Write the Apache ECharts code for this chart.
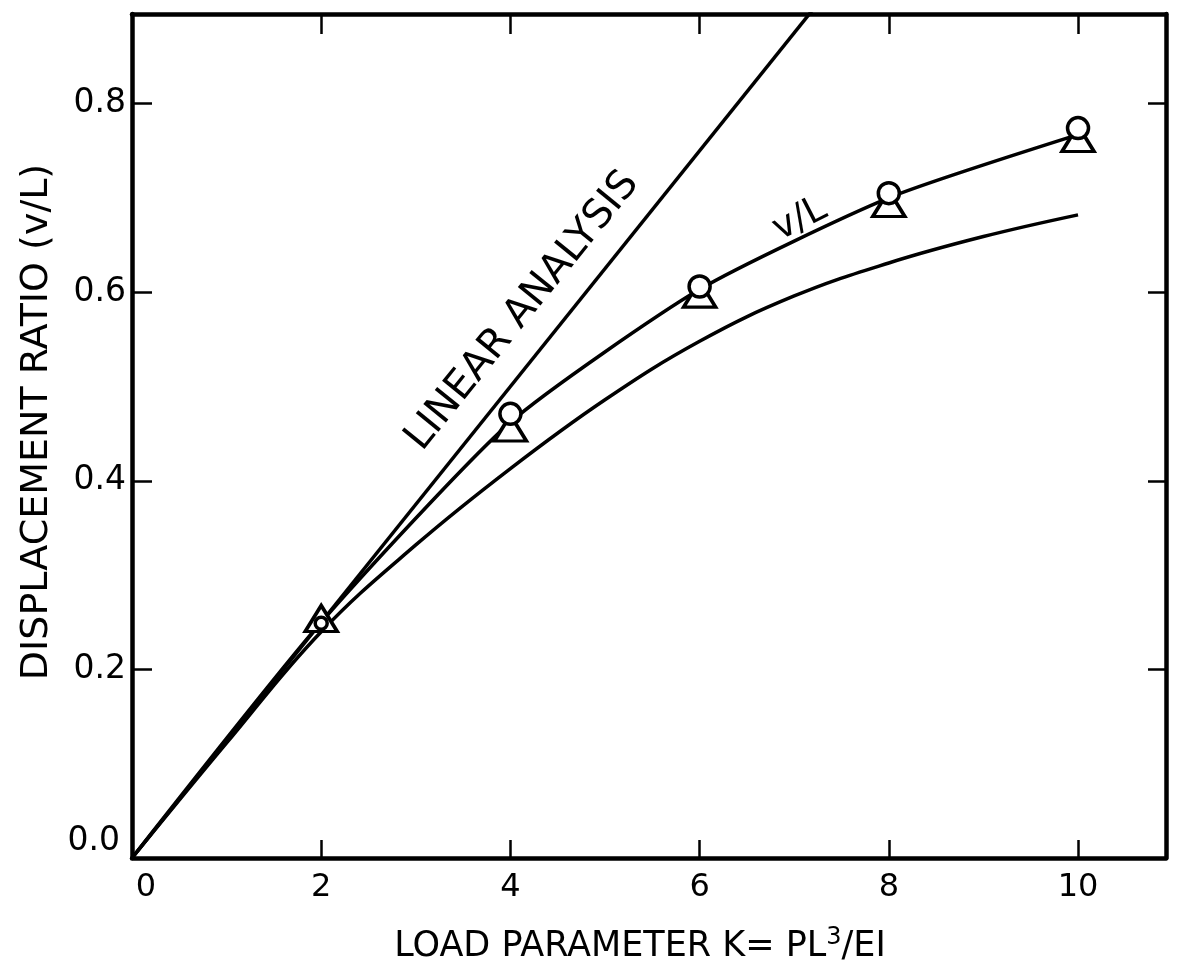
<!DOCTYPE html>
<html><head><meta charset="utf-8">
<script src="https://cdn.jsdelivr.net/npm/echarts@6/dist/echarts.min.js"></script>
<style>html,body{margin:0;padding:0;background:#fff}#c{width:1181px;height:976px}</style>
</head><body><div id="c"></div>
<script>
// ---- data ----
const xTickValues = [0, 2, 4, 6, 8, 10];
const xTickLabels = ['0', '2', '4', '6', '8', '10'];
const yTickValues = [0.0, 0.2, 0.4, 0.6, 0.8];
const yTickLabels = ['0.0', '0.2', '0.4', '0.6', '0.8'];

const linearK = [0, 8];
const linearV = [0, 1.0];                 // v/L = K/8 (linear analysis)

const vlK = [0, 2, 4, 6, 8, 10];
const vlV = [0, 0.25, 0.462, 0.603, 0.70, 0.767];

const markerK = [2, 4, 6, 8, 10];
const circleV = [0.249, 0.471, 0.606, 0.705, 0.774];
const triangleV = [0.254, 0.456, 0.598, 0.694, 0.763];

const lowerK = [0, 1, 2, 3, 4, 5, 6, 7, 8, 9, 10];
const lowerV = [0, 0.122, 0.24, 0.332, 0.413, 0.486, 0.548, 0.596, 0.631, 0.659, 0.682];

const annotationText = ['LINEAR ANALYSIS', 'v/L'];
const annotationK = [4.13, 7.06];
const annotationV = [0.58, 0.677];

// ---- styles ----
const FONT = 'DejaVu Sans';
const INK = '#000';
const annotationStyle = {
  'LINEAR ANALYSIS': { rotate: 51, fontSize: 40 },
  'v/L': { rotate: 27, fontSize: 37 }
};
const zip = (a, b) => a.map((x, i) => [x, b[i]]);

const chart = echarts.init(document.getElementById('c'));
const axisLineStyle = { color: INK, width: 4.5 };
const tickStyle = { color: INK, width: 2.5 };

const option = {
  backgroundColor: '#fff',
  animation: false,
  grid: { left: 132, right: 15, top: 14, bottom: 118 },
  xAxis: [{
    type: 'value', position: 'bottom', min: 0, max: 10.93, interval: 2,
    axisLine: { show: true, onZero: false, lineStyle: axisLineStyle },
    axisTick: { show: true, inside: true, length: 18, lineStyle: tickStyle },
    splitLine: { show: false },
    axisLabel: {
      showMaxLabel: false, color: INK, fontFamily: FONT, fontSize: 32, margin: 14,
      formatter: v => {
        const i = xTickValues.indexOf(Math.round(v * 100) / 100);
        if (i < 0) return '';
        return i === 0 ? '{z|' + xTickLabels[i] + '}' : xTickLabels[i];
      },
      rich: { z: { fontFamily: FONT, fontSize: 32, color: INK, padding: [0, 0, 0, 28] } }
    },
    name: 'LOAD PARAMETER K= PL{s|3}/EI',
    nameLocation: 'middle', nameGap: 68,
    nameTextStyle: {
      color: INK, fontFamily: FONT, fontSize: 35, padding: [0, 18, 0, 0],
      rich: { s: { fontFamily: FONT, fontSize: 24, color: INK, padding: [0, 0, 18, 0] } }
    }
  }, {
    type: 'value', position: 'top', min: 0, max: 10.93, interval: 2,
    axisLine: { show: true, onZero: false, lineStyle: axisLineStyle },
    axisTick: { show: true, inside: true, length: 20, lineStyle: tickStyle },
    axisLabel: { show: false }, splitLine: { show: false }
  }],
  yAxis: [{
    type: 'value', position: 'left', min: 0, max: 0.895, interval: 0.2,
    axisLine: { show: true, onZero: false, lineStyle: axisLineStyle },
    axisTick: { show: true, inside: true, length: 20, lineStyle: tickStyle },
    splitLine: { show: false },
    axisLabel: {
      showMaxLabel: false, color: INK, fontFamily: FONT, fontSize: 33, margin: 6,
      formatter: v => {
        const i = yTickValues.findIndex(t => Math.abs(t - v) < 1e-6);
        if (i < 0) return '';
        return i === 0 ? '{z|' + yTickLabels[i] + '}' : yTickLabels[i];
      },
      rich: { z: { fontFamily: FONT, fontSize: 33, color: INK, padding: [0, 6, 34, 0] } }
    },
    name: 'DISPLACEMENT RATIO (v/L)',
    nameLocation: 'middle', nameGap: 74,
    nameTextStyle: { color: INK, fontFamily: FONT, fontSize: 38, padding: [0, 0, 0, 28] }
  }, {
    type: 'value', position: 'right', min: 0, max: 0.895, interval: 0.2,
    axisLine: { show: true, onZero: false, lineStyle: axisLineStyle },
    axisTick: { show: true, inside: true, length: 18, lineStyle: tickStyle },
    axisLabel: { show: false }, splitLine: { show: false }
  }],
  series: [
    {
      name: 'linear', type: 'line', data: zip(linearK, linearV), clip: true,
      symbol: 'none', lineStyle: { color: INK, width: 3.5 }, z: 2
    },
    {
      name: 'lower', type: 'line', data: zip(lowerK, lowerV), smooth: 0.4,
      symbol: 'none', lineStyle: { color: INK, width: 3.5 }, z: 2
    },
    {
      name: 'v/L', type: 'line', data: zip(vlK, vlV), smooth: 0.2,
      symbol: 'none', lineStyle: { color: INK, width: 3.5 }, z: 2
    },
    {
      name: 'triangles', type: 'scatter', data: zip(markerK, triangleV),
      symbol: 'triangle', symbolSize: [32, 26],
      itemStyle: { color: '#fff', borderColor: INK, borderWidth: 3.5, opacity: 1 }, z: 3
    },
    {
      name: 'circles', type: 'scatter', data: zip(markerK, circleV),
      symbol: 'circle', symbolSize: v => (v[0] === 2 ? 12 : 21),
      itemStyle: { color: '#fff', borderColor: INK, borderWidth: 3.5, opacity: 1 }, z: 4
    },
    {
      name: 'annotations', type: 'scatter', silent: true,
      data: annotationText.map((t, i) => ({
        value: [annotationK[i], annotationV[i]], name: t,
        label: Object.assign({}, annotationStyle[t])
      })),
      symbol: 'circle', symbolSize: 1, itemStyle: { color: '#fff', opacity: 0 },
      label: { show: true, position: 'inside', formatter: p => p.name, opacity: 1,
        color: '#000', fontFamily: FONT, fontSize: 37, textBorderWidth: 0 }, z: 5
    }
  ]
};
chart.setOption(option);
</script>
</body></html>
